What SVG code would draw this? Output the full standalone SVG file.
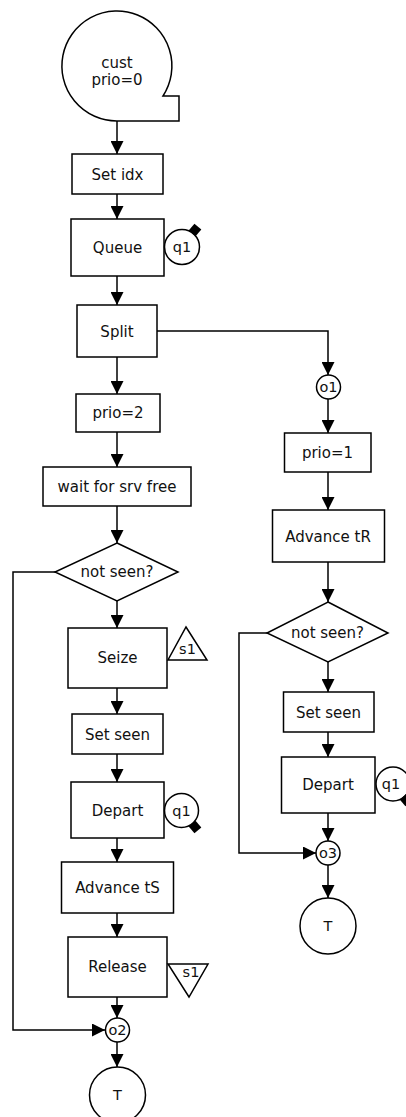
<svg xmlns="http://www.w3.org/2000/svg" width="406" height="1117" viewBox="0 0 406 1117">
  <style>
    .shape { fill: #fff; stroke: #000; stroke-width: 1.5; }
    .wire { fill: none; stroke: #000; stroke-width: 1.5; }
    .lbl { font-family: "DejaVu Sans", Verdana, sans-serif; font-size: 15px; text-anchor: middle; fill: #111; }
    .sm { font-family: "DejaVu Sans", Verdana, sans-serif; font-size: 14.5px; text-anchor: middle; fill: #111; }
    .knob { fill: #000; }
  </style>
  <defs>
    <marker id="arrow" markerUnits="userSpaceOnUse" markerWidth="13" markerHeight="13" refX="13" refY="6.5" orient="auto">
      <path d="M0,0 L13,6.5 L0,13 Z" fill="#000"/>
    </marker>
  </defs>
  <rect width="406" height="1117" fill="#fff"/>

  <!-- connectors -->
  <g id="connectors" class="wire" marker-end="url(#arrow)">
    <path d="M117,121 V154"/>
    <path d="M117,194 V219"/>
    <path d="M117,276 V305"/>
    <path d="M117,357 V394"/>
    <path d="M157,331 H328 V375"/>
    <path d="M117,432 V467"/>
    <path d="M117,506 V543"/>
    <path d="M117,601 V628"/>
    <path d="M117,688 V714"/>
    <path d="M117,754 V782"/>
    <path d="M117,838 V862"/>
    <path d="M117,913 V937"/>
    <path d="M117,997 V1018"/>
    <path d="M55,572 H13 V1030 H105"/>
    <path d="M117,1042 V1067"/>
    <path d="M328,399 V433"/>
    <path d="M328,472 V510"/>
    <path d="M328,562 V602"/>
    <path d="M328,662 V692"/>
    <path d="M328,732 V757"/>
    <path d="M328,813 V841"/>
    <path d="M267,633 H239 V853 H316"/>
    <path d="M328,865 V898"/>
  </g>

  <!-- left branch -->
  <g id="start">
    <path class="shape" d="M163,96 A55,55 0 1 0 117,121 L179,121 L179,96 Z"/>
    <text class="lbl" x="117" y="68">cust</text>
    <text class="lbl" x="117" y="85">prio=0</text>
  </g>
  <g id="set-idx">
    <rect class="shape" x="72" y="154" width="91" height="40"/>
    <text class="lbl" x="117.5" y="179.5">Set idx</text>
  </g>
  <g id="queue">
    <rect class="shape" x="71" y="219" width="93" height="57"/>
    <text class="lbl" x="117.5" y="253">Queue</text>
  </g>
  <g id="queue-q1">
    <circle class="shape" cx="182" cy="247" r="17.5"/>
    <rect class="knob" x="-4.5" y="-4.5" width="9" height="9" transform="translate(195,230) rotate(40)"/>
    <text class="sm" x="182" y="252">q1</text>
  </g>
  <g id="split">
    <rect class="shape" x="77" y="305" width="80" height="52"/>
    <text class="lbl" x="117" y="336.5">Split</text>
  </g>
  <g id="prio2">
    <rect class="shape" x="76" y="394" width="84" height="38"/>
    <text class="lbl" x="118" y="418">prio=2</text>
  </g>
  <g id="wait-srv">
    <rect class="shape" x="43" y="467" width="148" height="39"/>
    <text class="lbl" x="117" y="491.5">wait for srv free</text>
  </g>
  <g id="not-seen-l">
    <path class="shape" d="M117,543 L178,572 L117,601 L55,572 Z"/>
    <text class="lbl" x="117" y="577">not seen?</text>
  </g>
  <g id="seize">
    <rect class="shape" x="68" y="628" width="99" height="60"/>
    <text class="lbl" x="117.5" y="663">Seize</text>
  </g>
  <g id="seize-s1">
    <path class="shape" d="M186,627 L207,660 L168,660 Z"/>
    <text class="sm" x="187.5" y="654">s1</text>
  </g>
  <g id="set-seen-l">
    <rect class="shape" x="72" y="714" width="91" height="40"/>
    <text class="lbl" x="117.5" y="739.5">Set seen</text>
  </g>
  <g id="depart-l">
    <rect class="shape" x="71" y="782" width="93" height="56"/>
    <text class="lbl" x="117.5" y="815.5">Depart</text>
  </g>
  <g id="depart-q1-l">
    <circle class="shape" cx="181.5" cy="810.5" r="17"/>
    <rect class="knob" x="-4.5" y="-4.5" width="9" height="9" transform="translate(195,827) rotate(50)"/>
    <text class="sm" x="181.5" y="815.5">q1</text>
  </g>
  <g id="advance-ts">
    <rect class="shape" x="61.5" y="862" width="112" height="51"/>
    <text class="lbl" x="117.5" y="893">Advance tS</text>
  </g>
  <g id="release">
    <rect class="shape" x="68" y="937" width="99" height="60"/>
    <text class="lbl" x="117.5" y="972">Release</text>
  </g>
  <g id="release-s1">
    <path class="shape" d="M168,964 L208,964 L189,997 Z"/>
    <text class="sm" x="191" y="977">s1</text>
  </g>
  <g id="o2">
    <circle class="shape" cx="117.5" cy="1030" r="12"/>
    <text class="sm" x="117.5" y="1035">o2</text>
  </g>
  <g id="end-l">
    <circle class="shape" cx="117.5" cy="1095" r="28"/>
    <text class="sm" x="117.5" y="1100">T</text>
  </g>

  <!-- right branch -->
  <g id="o1">
    <circle class="shape" cx="328.5" cy="387" r="12"/>
    <text class="sm" x="328.5" y="392">o1</text>
  </g>
  <g id="prio1">
    <rect class="shape" x="284.5" y="433" width="86.5" height="39"/>
    <text class="lbl" x="327.5" y="457.5">prio=1</text>
  </g>
  <g id="advance-tr">
    <rect class="shape" x="272.5" y="510" width="112" height="52"/>
    <text class="lbl" x="328" y="541.5">Advance tR</text>
  </g>
  <g id="not-seen-r">
    <path class="shape" d="M328,602 L388,633 L328,662 L267,633 Z"/>
    <text class="lbl" x="327.5" y="638">not seen?</text>
  </g>
  <g id="set-seen-r">
    <rect class="shape" x="283.5" y="692" width="90.5" height="40"/>
    <text class="lbl" x="328.5" y="717.5">Set seen</text>
  </g>
  <g id="depart-r">
    <rect class="shape" x="281.5" y="757" width="93.5" height="56"/>
    <text class="lbl" x="328" y="790">Depart</text>
  </g>
  <g id="depart-q1-r">
    <circle class="shape" cx="393" cy="784" r="17"/>
    <rect class="knob" x="-4.5" y="-4.5" width="9" height="9" transform="translate(406,800) rotate(50)"/>
    <text class="sm" x="391" y="789">q1</text>
  </g>
  <g id="o3">
    <circle class="shape" cx="328" cy="853" r="12"/>
    <text class="sm" x="328" y="858">o3</text>
  </g>
  <g id="end-r">
    <circle class="shape" cx="328" cy="926" r="28"/>
    <text class="sm" x="328" y="931">T</text>
  </g>
</svg>
